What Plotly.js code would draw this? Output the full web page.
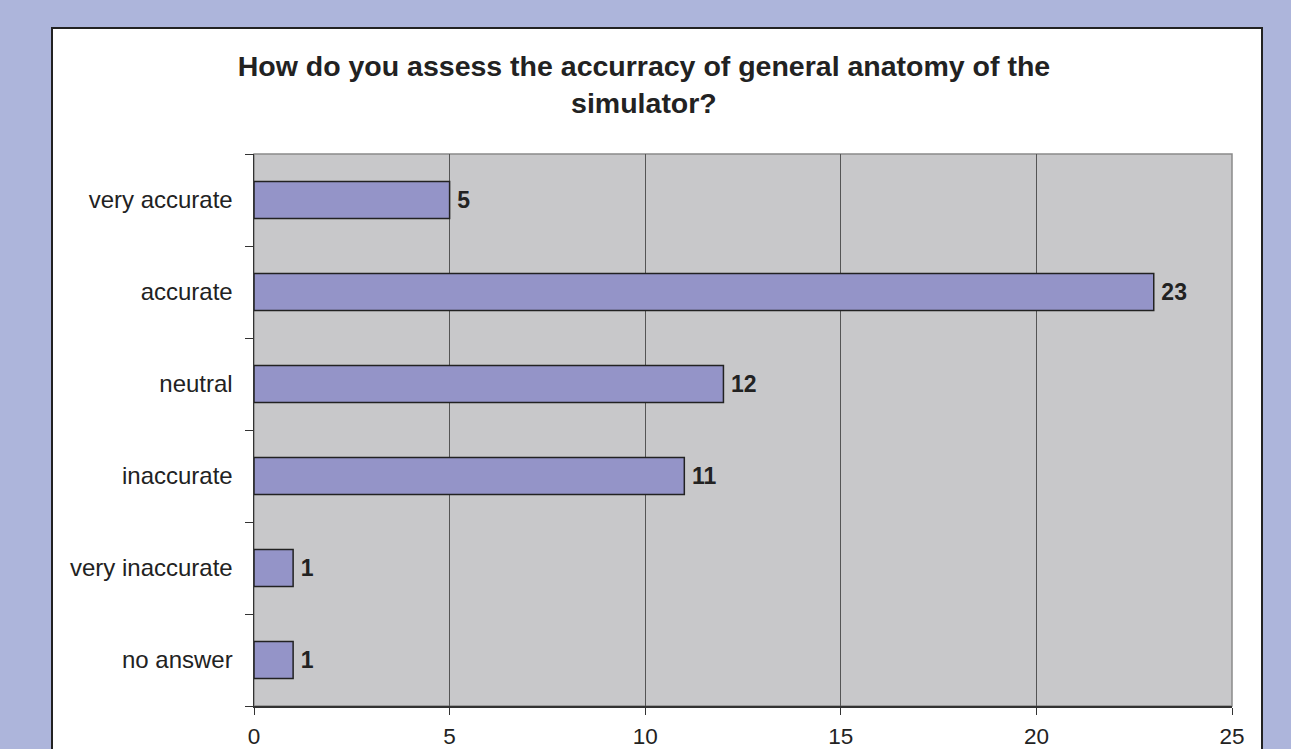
<!DOCTYPE html>
<html>
<head>
<meta charset="utf-8">
<script src="https://cdn.plot.ly/plotly-3.0.1.min.js"></script>
<style>html,body{margin:0;padding:0;}#chart{width:1291px;height:749px;}</style>
</head>
<body>
<div id="chart"></div>
<script>
var categories = ["very accurate", "accurate", "neutral", "inaccurate", "very inaccurate", "no answer"];
var counts = [5, 23, 12, 11, 1, 1];
var xTicks = [0, 5, 10, 15, 20, 25];
var chartTitle = "How do you assess the accurracy of general anatomy of the<br>simulator?";

var FONT = "Liberation Sans, Arial, sans-serif";

var trace = {
  type: "bar",
  orientation: "h",
  y: categories,
  x: counts,
  width: 0.4,
  marker: { color: "#9494c8", line: { color: "#222222", width: 1.5 } },
  text: counts.map(function (v) { return "\u2009" + v; }),
  textposition: "outside",
  cliponaxis: false,
  textfont: { family: FONT, size: 23, color: "#222222", weight: "bold" },
  hoverinfo: "skip"
};

var layout = {
  width: 1291,
  height: 749,
  margin: { l: 254, r: 59, t: 154, b: 43 },
  paper_bgcolor: "#adb5db",
  plot_bgcolor: "rgba(0,0,0,0)",
  showlegend: false,
  font: { family: FONT, color: "#222222" },
  title: {
    text: chartTitle,
    font: { family: FONT, size: 28.5, color: "#222222", weight: "bold" },
    xref: "container", x: 0.4988, xanchor: "center",
    yref: "container", y: 1 - 76 / 749, yanchor: "top"
  },
  xaxis: {
    range: [0, 25],
    tickvals: xTicks,
    ticktext: xTicks.map(String),
    showgrid: true,
    gridcolor: "#555555",
    gridwidth: 1,
    zeroline: false,
    showline: true,
    linecolor: "#333333",
    linewidth: 1.5,
    ticks: "outside",
    ticklen: 7,
    tickcolor: "#333333",
    tickfont: { family: FONT, size: 22.5, color: "#222222" },
    ticklabelstandoff: 2
  },
  yaxis: {
    type: "category",
    categoryorder: "array",
    categoryarray: categories.slice().reverse(),
    tickson: "boundaries",
    ticks: "outside",
    ticklen: 8,
    tickcolor: "#333333",
    showgrid: false,
    zeroline: false,
    showline: true,
    linecolor: "#333333",
    linewidth: 1.5,
    tickfont: { family: FONT, size: 24, color: "#222222" },
    ticklabelstandoff: 15
  },
  shapes: [
    { type: "rect", xref: "paper", yref: "paper", layer: "below",
      x0: (52 - 254) / 978, x1: (1262 - 254) / 978,
      y0: (706 - 780) / 552, y1: (706 - 28) / 552,
      fillcolor: "#ffffff", line: { color: "#222222", width: 2 } },
    { type: "rect", xref: "paper", yref: "paper", layer: "below",
      x0: 0, x1: 1, y0: 0, y1: 1,
      fillcolor: "#c8c8ca", line: { color: "#8a8a8a", width: 1.5 } }
  ]
};

Plotly.newPlot("chart", [trace], layout, { displayModeBar: false, staticPlot: true });
</script>
</body>
</html>
